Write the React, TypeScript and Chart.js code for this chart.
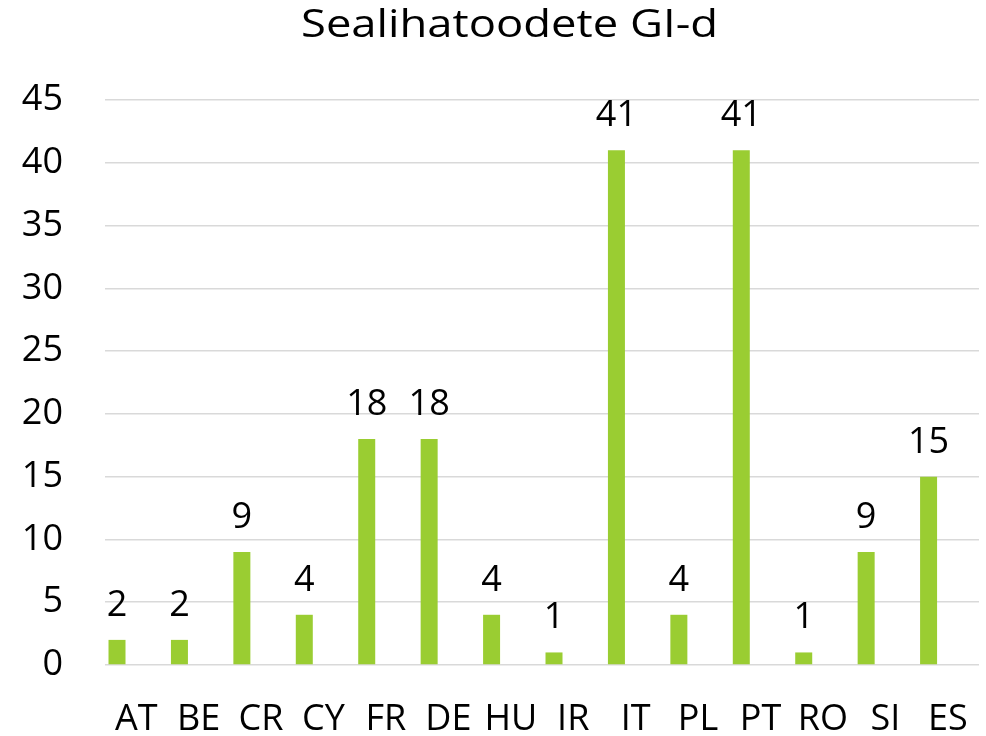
import React, { useEffect, useRef } from "react";
import { Chart, registerables } from "chart.js";

Chart.register(...registerables);

const TITLE = "Sealihatoodete GI-d";
const categories = ["AT", "BE", "CR", "CY", "FR", "DE", "HU", "IR", "IT", "PL", "PT", "RO", "SI", "ES"];
const values = [2, 2, 9, 4, 18, 18, 4, 1, 41, 4, 41, 1, 9, 15];
const emptySeries = categories.map(() => null);
const yMin = 0;
const yMax = 45;
const yStep = 5;

const FONT = "'Open Sans', sans-serif";
const BAR_COLOR = "#9ACD32";

const titlePlugin = {
  id: "customTitle",
  afterDraw(chart: any) {
    const ctx = chart.ctx;
    ctx.save();
    ctx.font = `38px ${FONT}`;
    ctx.fillStyle = "#000";
    ctx.textAlign = "center";
    ctx.textBaseline = "alphabetic";
    const targetWidth = 417;
    const w = ctx.measureText(TITLE).width;
    const sx = w > 0 ? targetWidth / w : 1;
    ctx.translate(509.5, 37);
    ctx.scale(sx, 1);
    ctx.fillText(TITLE, 0, 0);
    ctx.restore();
  },
};

const labelPlugin = {
  id: "valueLabels",
  afterDatasetsDraw(chart: any) {
    const ctx = chart.ctx;
    const meta = chart.getDatasetMeta(0);
    ctx.save();
    ctx.font = `36px ${FONT}`;
    ctx.fillStyle = "#000";
    ctx.textAlign = "center";
    ctx.textBaseline = "alphabetic";
    meta.data.forEach((el: any, i: number) => {
      const v = chart.data.datasets[0].data[i];
      if (v == null) return;
      ctx.fillText(String(v), el.x, el.y - 24);
    });
    ctx.restore();
  },
};

export default function App() {
  const ref = useRef<HTMLCanvasElement>(null);
  useEffect(() => {
    if (!ref.current) return;
    const chart = new Chart(ref.current, {
      type: "bar",
      data: {
        labels: categories,
        datasets: [
          { data: values, backgroundColor: BAR_COLOR, categoryPercentage: 0.923, barPercentage: 0.885 },
          { data: emptySeries, backgroundColor: BAR_COLOR, categoryPercentage: 0.923, barPercentage: 0.885 },
          { data: emptySeries, backgroundColor: BAR_COLOR, categoryPercentage: 0.923, barPercentage: 0.885 },
        ],
      },
      options: {
        animation: false,
        responsive: false,
        devicePixelRatio: 1,
        layout: { padding: { top: 100, right: 7, left: 0, bottom: 0 } },
        plugins: {
          legend: { display: false },
          title: { display: false },
          tooltip: { enabled: false },
        },
        scales: {
          x: {
            grid: { display: true, drawOnChartArea: false, drawTicks: true, tickLength: 33, color: "rgba(0,0,0,0)" },
            border: { display: false },
            ticks: { font: { family: FONT, size: 36 }, color: "#000", padding: 0, maxRotation: 0, autoSkip: false },
            afterFit(scale: any) { scale.height = 71; },
          },
          y: {
            min: yMin,
            max: yMax,
            grid: { color: "#d9d9d9", lineWidth: 1.5, drawTicks: false },
            border: { display: false },
            ticks: { stepSize: yStep, font: { family: FONT, size: 36 }, color: "#000", padding: 42 },
            afterFit(scale: any) { scale.width = 105; },
          },
        },
      },
      plugins: [titlePlugin, labelPlugin],
    });
    return () => chart.destroy();
  }, []);
  return (
    <div style={{ position: "absolute", left: 0, top: 0, width: 986, height: 736, background: "#fff" }}>
      <canvas ref={ref} width={986} height={736} style={{ display: "block" }} />
    </div>
  );
}
